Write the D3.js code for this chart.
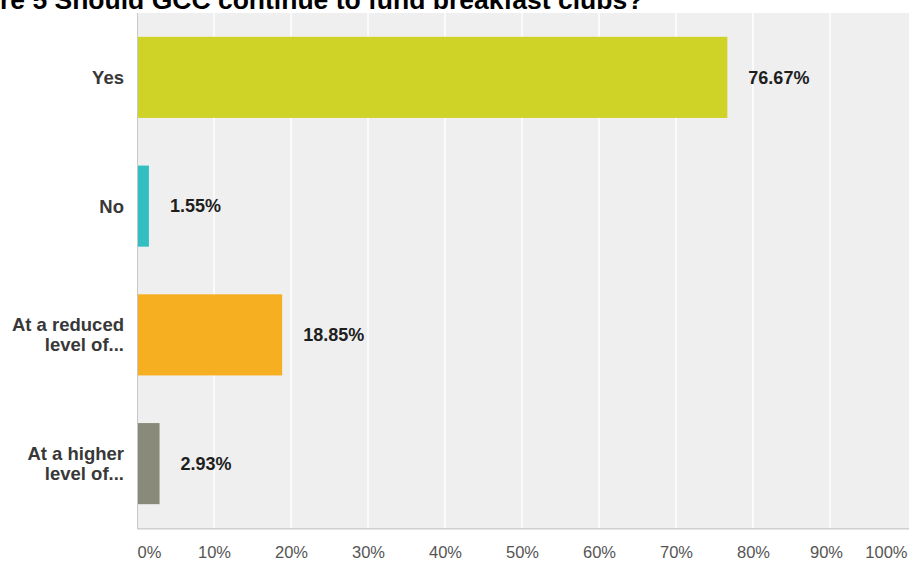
<!DOCTYPE html>
<html>
<head>
<meta charset="utf-8">
<script src="https://cdn.jsdelivr.net/npm/d3@7/dist/d3.min.js"></script>
<style>
  html, body { margin: 0; padding: 0; background: #ffffff; overflow: hidden; }
  svg { display: block; font-family: "Liberation Sans", Arial, sans-serif; }
</style>
</head>
<body>
<svg id="chart" width="909" height="564"></svg>
<script>
// Survey answers and their share of responses (%)
const categories = ["Yes", "No", "At a reduced\nlevel of...", "At a higher\nlevel of..."];
const values = [76.67, 1.55, 18.85, 2.93];
const barColors = ["#cfd327", "#33bfc2", "#f5af20", "#8a8a7a"];
const tickValues = [0, 10, 20, 30, 40, 50, 60, 70, 80, 90, 100];
const titleText = "Figure 5 Should GCC continue to fund breakfast clubs?";

const W = 909, H = 564;
const plot = { left: 137, right: 907, top: 13, bottom: 528 };

const svg = d3.select("#chart");

// Title, anchored so that its opening word runs off the left edge
const titleSize = 26.5;
const title = svg.append("text")
  .attr("y", 9)
  .attr("font-size", titleSize)
  .attr("font-weight", "bold")
  .attr("fill", "#000")
  .text(titleText);
const probe = svg.append("text")
  .attr("font-size", titleSize).attr("font-weight", "bold")
  .attr("visibility", "hidden").text("Figu");
const offset = probe.node().getComputedTextLength();
probe.remove();
title.attr("x", -offset);

const x = d3.scaleLinear().domain([0, 100]).range([plot.left, plot.right]);
const y = d3.scaleBand().domain(d3.range(categories.length))
  .range([plot.top, plot.bottom]).paddingInner(0.37).paddingOuter(0.185);

// Plot background
svg.append("rect")
  .attr("x", plot.left).attr("y", plot.top)
  .attr("width", W - plot.left).attr("height", plot.bottom - plot.top)
  .attr("fill", "#efefef");

// Vertical gridlines (10% .. 90%)
svg.append("g").selectAll("line").data(tickValues.slice(1, -1))
  .join("line")
  .attr("x1", d => x(d)).attr("x2", d => x(d))
  .attr("y1", plot.top).attr("y2", plot.bottom)
  .attr("stroke", "#ffffff").attr("stroke-width", 1.5);

// Frame: left axis line and bottom edge with a soft shadow
svg.append("line")
  .attr("x1", plot.left + 0.5).attr("x2", plot.left + 0.5)
  .attr("y1", plot.top).attr("y2", plot.bottom + 1)
  .attr("stroke", "#c8c8c8").attr("stroke-width", 1);
svg.append("line")
  .attr("x1", plot.left).attr("x2", W)
  .attr("y1", plot.bottom + 0.5).attr("y2", plot.bottom + 0.5)
  .attr("stroke", "#cfcfcf").attr("stroke-width", 1);
svg.append("line")
  .attr("x1", plot.left).attr("x2", W)
  .attr("y1", plot.bottom + 1.5).attr("y2", plot.bottom + 1.5)
  .attr("stroke", "#e6e6e6").attr("stroke-width", 1);

// Bars
svg.append("g").selectAll("rect").data(values)
  .join("rect")
  .attr("x", x(0) + 1)
  .attr("y", (d, i) => y(i))
  .attr("width", d => x(d) - x(0) - 1)
  .attr("height", y.bandwidth())
  .attr("fill", (d, i) => barColors[i]);

// Value labels
svg.append("g").selectAll("text").data(values)
  .join("text")
  .attr("x", d => x(d) + 21)
  .attr("y", (d, i) => y(i) + y.bandwidth() / 2)
  .attr("dy", "0.35em")
  .attr("font-size", 18)
  .attr("font-weight", "bold")
  .attr("fill", "#1e1e1e")
  .text(d => d.toFixed(2) + "%");

// Category labels (right-aligned, possibly two lines)
const catG = svg.append("g");
categories.forEach((c, i) => {
  const lines = c.split("\n");
  const cy = y(i) + y.bandwidth() / 2;
  const lh = 20;
  const t = catG.append("text")
    .attr("text-anchor", "end")
    .attr("font-size", 18.5)
    .attr("font-weight", "bold")
    .attr("fill", "#383838");
  lines.forEach((ln, k) => {
    t.append("tspan")
      .attr("x", 124)
      .attr("y", cy + (k - (lines.length - 1) / 2) * lh)
      .attr("dy", "0.35em")
      .text(ln);
  });
});

// Bottom axis tick labels
const axisG = svg.append("g").attr("transform", `translate(0,${plot.bottom})`)
  .call(d3.axisBottom(x).tickValues(tickValues).tickFormat(d => d + "%").tickSize(0).tickPadding(18));
axisG.select(".domain").remove();
axisG.selectAll("text")
  .attr("font-size", 16.5)
  .attr("font-family", "Liberation Sans, Arial, sans-serif")
  .attr("fill", "#555")
  .attr("text-anchor", d => d === 0 ? "start" : d === 100 ? "end" : "middle")
  .attr("dx", d => d === 90 ? -4 : 0);
</script>
</body>
</html>
